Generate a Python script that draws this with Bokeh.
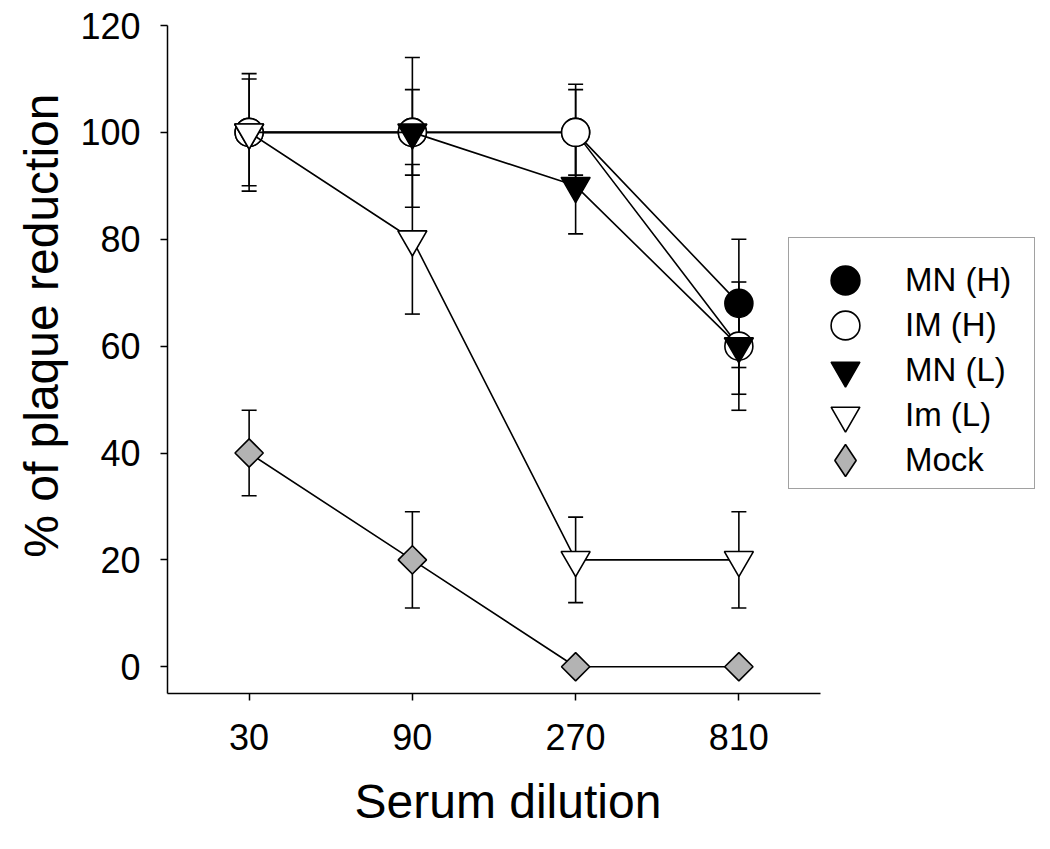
import math
from bokeh.plotting import figure
from bokeh.models import (ColumnDataSource, Range1d, FixedTicker, PrintfTickFormatter,
                          Whisker, TeeHead, Legend, LegendItem, Title)
from bokeh.embed import file_html
from bokeh.resources import INLINE

# ---------------- data ----------------
dilution = [30, 90, 270, 810]
series_names = ["MN (H)", "IM (H)", "MN (L)", "Im (L)", "Mock"]
mn_h = [100, 100, 100, 68]
mn_h_err = [0, 14, 9, 12]
im_h = [100, 100, 100, 60]
im_h_err = [0, 0, 8, 12]
mn_l = [100, 100, 90, 60]
mn_l_err = [10, 8, 9, 9]
im_l = [100, 80, 20, 20]
im_l_err = [11, 14, 8, 9]
mock = [40, 20, 0, 0]
mock_err = [8, 9, 0, 0]
y_ticks = [0, 20, 40, 60, 80, 100, 120]

FONT = "Liberation Sans"

# ---------------- layout ----------------
W, H = 1040, 849
left, top = 167, 25
frame_bottom = 693
px_per_step = 163.25          # screen px per factor-3 step on the log axis
x_lo = dilution[0] / math.sqrt(3)
x_hi = x_lo * 3 ** ((W - left) / px_per_step)
axis_hi = dilution[-1] * math.sqrt(3)

p = figure(width=W, height=H, x_axis_type="log", output_backend="svg",
           toolbar_location=None, min_border_left=left, min_border_right=0,
           min_border_top=top, min_border_bottom=H - frame_bottom,
           x_range=Range1d(x_lo, x_hi), y_range=Range1d(-5, 120))
p.outline_line_color = None
p.xgrid.visible = False
p.ygrid.visible = False
p.background_fill_color = "white"
p.border_fill_color = "white"

styles = [
    dict(marker="circle", fill="black", size=28, angle=0.0),
    dict(marker="circle", fill="white", size=28, angle=0.0),
    dict(marker="inverted_triangle", fill="black", size=29, angle=0.0),
    dict(marker="inverted_triangle", fill="white", size=29, angle=0.0),
    dict(marker="square", fill="#b3b3b3", size=20, angle=math.pi / 4),
]
values = [mn_h, im_h, mn_l, im_l, mock]
errors = [mn_h_err, im_h_err, mn_l_err, im_l_err, mock_err]

legend_renderers = []
for name, ys, es, st in zip(series_names, values, errors, styles):
    src = ColumnDataSource(dict(x=dilution, y=ys))
    p.line("x", "y", source=src, line_color="black", line_width=1.6)
    ex = [x for x, e in zip(dilution, es) if e > 0]
    ey = [y for y, e in zip(ys, es) if e > 0]
    ee = [e for e in es if e > 0]
    esrc = ColumnDataSource(dict(base=ex, upper=[y + e for y, e in zip(ey, ee)],
                                 lower=[y - e for y, e in zip(ey, ee)]))
    w = Whisker(source=esrc, base="base", upper="upper", lower="lower", dimension="height",
                line_color="black", line_width=1.6,
                upper_head=TeeHead(size=15, line_width=1.6, line_color="black"),
                lower_head=TeeHead(size=15, line_width=1.6, line_color="black"))
    p.add_layout(w)
    r = p.scatter("x", "y", source=src, marker=st["marker"], size=st["size"], angle=st["angle"],
                  fill_color=st["fill"], line_color="black", line_width=1.6)
    legend_renderers.append(r)

# legend swatch for the rotated-square series (legend ignores angle): a hidden diamond
mock_src = ColumnDataSource(dict(x=dilution, y=mock))
mock_key = p.scatter("x", "y", source=mock_src, marker="diamond", size=30,
                     fill_color="#b3b3b3", line_color="black", line_width=1.6, visible=False)
legend_renderers[-1] = mock_key
# invisible renderer used for the legend frame
frame_dummy = p.scatter("x", "y", source=mock_src, size=1, fill_alpha=0, line_alpha=0)

# ---------------- axes ----------------
xa = p.xaxis[0]
xa.ticker = FixedTicker(ticks=dilution, minor_ticks=[])
xa.formatter = PrintfTickFormatter(format="%d")
xa.bounds = (x_lo, axis_hi)
ya = p.yaxis[0]
ya.ticker = FixedTicker(ticks=y_ticks, minor_ticks=[])

for ax in (xa, ya):
    ax.axis_line_color = "black"
    ax.axis_line_width = 1.5
    ax.major_tick_line_color = "black"
    ax.major_tick_line_width = 1.5
    ax.major_tick_in = 0
    ax.major_tick_out = 7
    ax.minor_tick_line_color = None
    ax.major_label_text_font = FONT
    ax.major_label_text_font_size = "36px"
    ax.major_label_text_color = "black"

xa.major_label_standoff = 23
ya.major_label_standoff = 20

# axis titles as side-panel titles so they can be placed like the reference
xtitle = Title(text="Serum dilution", align="left", offset=187, standoff=41,
               text_font=FONT, text_font_size="48px", text_font_style="normal",
               text_color="black")
p.add_layout(xtitle, "below")
ytitle = Title(text="% of plaque reduction", align="right", offset=68, standoff=20,
               text_font=FONT, text_font_size="48px", text_font_style="normal",
               text_color="black")
p.add_layout(ytitle, "left")

# ---------------- legend ----------------
box_left, box_top, box_right, box_bottom = 788, 239, 1033, 489
frame_leg = Legend(items=[LegendItem(label=" ", renderers=[frame_dummy])],
                   location=(box_left - left, frame_bottom - box_bottom),
                   border_line_color="#444444", border_line_width=1,
                   background_fill_color="white", background_fill_alpha=1.0,
                   padding=0, margin=0, spacing=0, label_standoff=0, label_width=0,
                   glyph_width=box_right - box_left, glyph_height=box_bottom - box_top,
                   label_height=0, label_text_font_size="1px")
p.add_layout(frame_leg, "center")

first_center, step = 280, 45
for i, (name, r) in enumerate(zip(series_names, legend_renderers)):
    gh = 80 if i == len(series_names) - 1 else 72
    cy = first_center + step * i
    leg = Legend(items=[LegendItem(label=name, renderers=[r])],
                 location=(box_left - left, frame_bottom - (cy + gh / 2)),
                 border_line_color=None, background_fill_alpha=0.0,
                 padding=0, margin=0, spacing=0,
                 glyph_height=gh, glyph_width=114, label_height=gh,
                 label_standoff=3, label_text_font=FONT, label_text_font_size="33px",
                 label_text_color="black")
    p.add_layout(leg, "center")

open("out.html", "w").write(file_html(p, INLINE))
